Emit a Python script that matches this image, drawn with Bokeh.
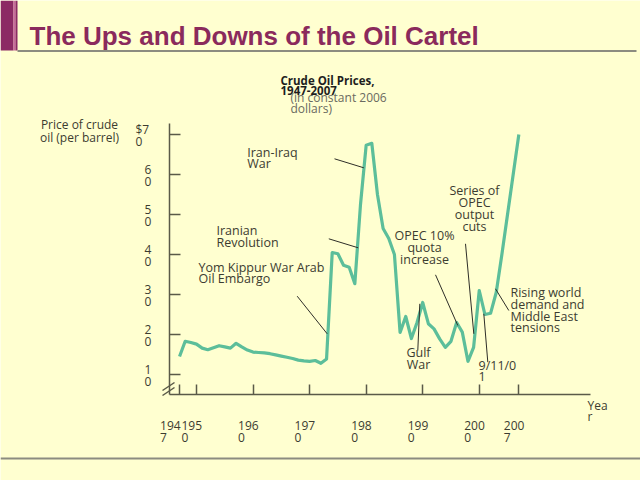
from bokeh.plotting import figure
from bokeh.models import Range1d, Label, Arrow, BoxAnnotation, FixedTicker, LinearAxis, CustomJSTickFormatter
from bokeh.embed import file_html
from bokeh.resources import INLINE

# ---------------- data ----------------
years = list(range(1947, 2008))
prices = [14.5, 18.3, 18.0, 17.6, 16.6, 16.2, 16.7, 17.2, 16.9, 16.6,
          17.8, 16.9, 16.1, 15.6, 15.5, 15.4, 15.2, 14.9, 14.6, 14.3,
          14.0, 13.6, 13.4, 13.3, 13.5, 12.8, 13.9, 40.5, 40.2, 37.3,
          36.8, 32.7, 52.5, 67.3, 67.8, 55.0, 46.5, 44.0, 40.0, 20.5,
          24.5, 19.0, 23.0, 28.0, 22.7, 21.4, 18.9, 16.8, 18.3, 23.0,
          20.6, 13.3, 16.8, 31.0, 25.0, 25.3, 30.5, 40.0, 50.0, 60.0,
          70.0]
x_ticks = [1947, 1950, 1960, 1970, 1980, 1990, 2000, 2007]
x_tick_labels = ["194\n7", "195\n0", "196\n0", "197\n0", "198\n0", "199\n0", "200\n0", "200\n7"]
y_ticks = [10, 20, 30, 40, 50, 60, 70]
y_tick_labels = ["1\n0", "2\n0", "3\n0", "4\n0", "5\n0", "6\n0", "$7\n0"]

title = "The Ups and Downs of the Oil Cartel"
chart_title = "Crude Oil Prices,\n1947-2007"
chart_subtitle = "(in constant 2006\ndollars)"
y_title = "Price of crude\noil (per barrel)"
x_title = "Yea\nr"

# ---------------- pixel helpers (reference-pixel layout) ----------------
PX_PER_YEAR = 5.655
def dx(X):
    return 1950 + (X - 196) / PX_PER_YEAR
def dy(Y):
    return (414 - Y) / 4.0

BG = "#FFFFD0"
AX = "#5a5a48"
TXT = "#3c3c30"
FONT = "Open Sans"

p = figure(width=640, height=480,
           x_range=Range1d(dx(0), dx(640)), y_range=Range1d(dy(480), dy(0)),
           output_backend="svg", toolbar_location=None,
           x_axis_type=None, y_axis_type=None, min_border=0)
p.background_fill_color = BG
p.border_fill_color = BG
p.outline_line_color = None

X0, X1 = dx(169), dx(590)
Y0, Y1 = dy(394), dy(123)

yax = LinearAxis(ticker=FixedTicker(ticks=y_ticks), formatter=CustomJSTickFormatter(code="return ''"),
                 fixed_location=X0, bounds=(Y0, Y1),
                 major_tick_in=11, major_tick_out=0, minor_tick_line_color=None,
                 axis_line_color=AX, major_tick_line_color=AX,
                 axis_line_width=1.5, major_tick_line_width=1.5, major_label_standoff=0)
p.add_layout(yax, "left")
xax = LinearAxis(ticker=FixedTicker(ticks=x_ticks), formatter=CustomJSTickFormatter(code="return ''"),
                 fixed_location=Y0, bounds=(X0, X1),
                 major_tick_in=10, major_tick_out=0, minor_tick_line_color=None,
                 axis_line_color=AX, major_tick_line_color=AX,
                 axis_line_width=1.5, major_tick_line_width=1.5, major_label_standoff=0)
p.add_layout(xax, "below")

# main series
p.line(years, prices, line_color="#5CBE9A", line_width=3.2, line_join="round")

# ---------------- header decorations ----------------
p.add_layout(BoxAnnotation(left=dx(0), right=dx(13), top=dy(0), bottom=dy(50),
                           fill_color="#8C2A64", fill_alpha=1, line_color=None))
p.add_layout(BoxAnnotation(left=dx(13), right=dx(15), top=dy(0), bottom=dy(50),
                           fill_color="#C9689C", fill_alpha=1, line_color=None))
p.add_layout(BoxAnnotation(left=dx(15), right=dx(17), top=dy(0), bottom=dy(50),
                           fill_color="#8C2A64", fill_alpha=1, line_color=None))
p.add_layout(Arrow(end=None, x_start=dx(17), y_start=dy(50.5), x_end=dx(636), y_end=dy(50.5),
                   line_color="#8c8c80", line_width=2))
p.add_layout(Arrow(end=None, x_start=dx(0), y_start=dy(458), x_end=dx(640), y_end=dy(458),
                   line_color="#8c8c80", line_width=2))

# axis break marks
for off in (0, 5):
    p.add_layout(Arrow(end=None, x_start=dx(162), y_start=dy(390 + off), x_end=dx(174), y_end=dy(382 + off),
                       line_color=AX, line_width=1.5))

p.add_layout(Label(x=dx(29), y=dy(35.5), text=title,
                   text_font="Liberation Sans",
                   text_font_style="bold", text_font_size="26px", text_color="#8A2A5C",
                   text_baseline="alphabetic", text_align="left"))

# ---------------- chart texts ----------------
def lab(X, Ytop, text, align="left", size="12px", color=TXT, style="normal", lh=0.7):
    p.add_layout(Label(x=dx(X), y=dy(Ytop), text=text, text_font=FONT, text_font_size=size,
                       text_color=color, text_font_style=style, text_align=align,
                       text_baseline="top", text_line_height=lh))

lab(280, 72.5, chart_title, size="11.5px", color="#1e1e1e", style="bold", lh=0.66)
lab(290, 88.2, chart_subtitle, size="12px", color="#6a6a60", lh=0.68)
lab(79, 115.1, y_title, align="center", size="12px", lh=0.78)
lab(587, 396, x_title, size="12px", lh=0.7)

for v, t in zip(y_ticks, y_tick_labels):
    X = 135 if t.startswith("$") else 144
    p.add_layout(Label(x=dx(X), y=v + 3.3, text=t, text_font=FONT, text_font_size="12px",
                       text_color=TXT, text_align="left", text_baseline="top", text_line_height=0.7))
for yr, t in zip(x_ticks, x_tick_labels):
    off = 19.5 if yr == 1947 else 15
    p.add_layout(Label(x=yr - off / PX_PER_YEAR, y=dy(416.5), text=t, text_font=FONT, text_font_size="12px",
                       text_color=TXT, text_align="left", text_baseline="top", text_line_height=0.68))

# ---------------- event annotations ----------------
events = [
    ("Yom Kippur War Arab\nOil Embargo", 198, 258.0, "left", (296.7, 295.7, 326.7, 333.3)),
    ("Iranian\nRevolution", 216, 221.7, "left", (328.3, 238.3, 357.7, 247.3)),
    ("Iran-Iraq\nWar", 246.7, 143.0, "left", (334.0, 158.3, 363.3, 167.3)),
    ("OPEC 10%\nquota\nincrease", 424, 226.7, "center", (435.0, 274.3, 457.3, 325.0)),
    ("Series of\nOPEC\noutput\ncuts", 474, 181.7, "center", (465.0, 243.3, 473.3, 333.3)),
    ("Gulf\nWar", 418, 343.3, "center", (419.3, 303.3, 417.3, 350.0)),
    ("9/11/0\n1", 478, 356.0, "left", (483.3, 313.3, 487.3, 361.7)),
    ("Rising world\ndemand and\nMiddle East\ntensions", 510, 283.3, "left", (495.0, 288.3, 508.3, 310.0)),
]
for text, X, Y, align, (ax0, ay0, ax1, ay1) in events:
    lab(X, Y, text, align=align, size="12.5px", lh=0.7)
    p.segment(x0=[dx(ax0)], y0=[dy(ay0)], x1=[dx(ax1)], y1=[dy(ay1)], line_color="#2e2e28", line_width=1)

open("out.html", "w").write(file_html(p, INLINE))
